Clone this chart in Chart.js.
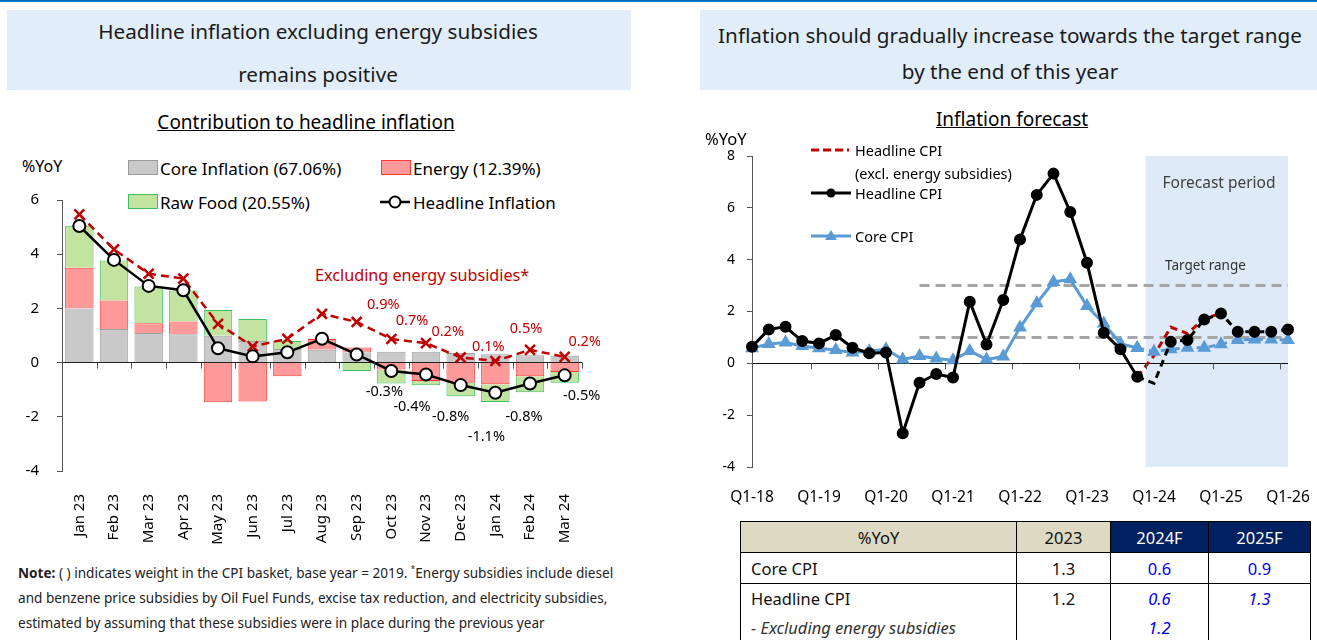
<!DOCTYPE html>
<html>
<head>
<meta charset="utf-8">
<script src="https://cdn.jsdelivr.net/npm/chart.js@4.4.1/dist/chart.umd.min.js"></script>
<style>
body{margin:0;width:1317px;height:640px;overflow:hidden;background:#fff;font-family:'Noto Sans',sans-serif;color:#111;position:relative}
.abs{position:absolute;white-space:nowrap}
.mid{transform:translateY(-50%)}
.ctr{transform:translate(-50%,-50%)}
.tbox{background:#e1eefa}
.ttl{font-size:20.7px;color:#1a1a1a}
.sub{font-size:19px;text-decoration:underline;color:#000}
.sw{position:absolute;width:28px;height:13px;border:1px solid}
.lg1{font-size:17px;color:#000}
.lg2{font-size:14.5px;color:#000}
.note{font-size:13.6px;color:#222;left:18px}
table{border-collapse:collapse;font-size:16.5px}
td,th{border-left:1px solid #000;border-right:1px solid #000;text-align:center;font-weight:normal;padding:0}
th{border-top:1px solid #000;border-bottom:1px solid #000}
td.l{text-align:left;padding-left:10px}
.bl{color:#0000ee}
.it{font-style:italic}
</style>
</head>
<body>
<div class="abs" style="left:0;top:0;width:1317px;height:2px;background:#0070c0"></div>

<div class="abs tbox" style="left:7px;top:10px;width:624px;height:80px"></div>
<div class="abs tbox" style="left:700px;top:10px;width:617px;height:80px"></div>
<div class="abs ttl ctr" style="left:318px;top:31px">Headline inflation excluding energy subsidies</div>
<div class="abs ttl ctr" style="left:318px;top:74px">remains positive</div>
<div class="abs ttl ctr" style="left:1010px;top:35px">Inflation should gradually increase towards the target range</div>
<div class="abs ttl ctr" style="left:1010px;top:71px">by the end of this year</div>

<div class="abs sub ctr" style="left:306px;top:122px">Contribution to headline inflation</div>
<div class="abs sub ctr" style="left:1012px;top:119px">Inflation forecast</div>

<!-- left legend -->
<div class="abs lg1 mid" style="left:22px;top:166px;font-size:16px">%YoY</div>
<div class="sw" style="left:128px;top:160px;background:#c9c9c9;border-color:#9a9a9a"></div>
<div class="abs lg1 mid" style="left:160px;top:168px">Core Inflation (67.06%)</div>
<div class="sw" style="left:381px;top:160px;background:#ff9a9a;border-color:#ff3a3a"></div>
<div class="abs lg1 mid" style="left:413px;top:168px">Energy (12.39%)</div>
<div class="sw" style="left:128px;top:194px;background:#c3e3a0;border-color:#3cbf5c"></div>
<div class="abs lg1 mid" style="left:160px;top:202px">Raw Food (20.55%)</div>
<svg class="abs" style="left:378px;top:192px" width="34" height="20"><line x1="2" y1="10" x2="32" y2="10" stroke="#000" stroke-width="2.5"/><circle cx="17" cy="10" r="5.5" fill="#fff" stroke="#000" stroke-width="2"/></svg>
<div class="abs lg1 mid" style="left:413px;top:202px">Headline Inflation</div>
<div class="abs mid" style="left:315px;top:275px;font-size:16.2px;color:#c00000">Excluding energy subsidies*</div>

<div class="abs" style="left:0;top:185px;width:600px;height:365px"><canvas id="c1" width="600" height="365"></canvas></div>

<div class="abs note mid" style="top:572px"><b>Note:</b> ( ) indicates weight in the CPI basket, base year = 2019. <sup style="font-size:8px">*</sup>Energy subsidies include diesel</div>
<div class="abs note mid" style="top:597px">and benzene price subsidies by Oil Fuel Funds, excise tax reduction, and electricity subsidies,</div>
<div class="abs note mid" style="top:622px">estimated by assuming that these subsidies were in place during the previous year</div>

<!-- right chart -->
<div class="abs" style="left:700px;top:140px;width:610px;height:375px"><canvas id="c2" width="610" height="375"></canvas></div>
<div class="abs mid" style="left:705px;top:138px;font-size:16.5px;color:#000">%YoY</div>
<svg class="abs" style="left:809px;top:140px" width="44" height="106">
  <line x1="2" y1="10" x2="40" y2="10" stroke="#c00000" stroke-width="3" stroke-dasharray="8,4"/>
  <line x1="2" y1="53" x2="42" y2="53" stroke="#000" stroke-width="3"/><circle cx="22" cy="53" r="4.5" fill="#000"/>
  <line x1="2" y1="96" x2="42" y2="96" stroke="#5b9bd5" stroke-width="3"/><polygon points="22,90 28,100 16,100" fill="#5b9bd5"/>
</svg>
<div class="abs lg2 mid" style="left:855px;top:150px">Headline CPI</div>
<div class="abs lg2 mid" style="left:855px;top:173px">(excl. energy subsidies)</div>
<div class="abs lg2 mid" style="left:855px;top:193px">Headline CPI</div>
<div class="abs lg2 mid" style="left:855px;top:236px">Core CPI</div>
<div class="abs ctr" style="left:1219px;top:182px;font-size:15.5px;color:#404040">Forecast period</div>
<div class="abs mid" style="left:1165px;top:265px;font-size:13.5px;color:#333">Target range</div>

<table class="abs" style="left:740px;top:521px">
<tr style="height:31px"><th style="width:275px;background:#ddd9c3">%YoY</th><th style="width:93px;background:#ddd9c3">2023</th><th style="width:97px;background:#002060;color:#fff">2024F</th><th style="width:101px;background:#002060;color:#fff">2025F</th></tr>
<tr style="height:31px;border-bottom:1px solid #000"><td class="l">Core CPI</td><td>1.3</td><td class="bl">0.6</td><td class="bl">0.9</td></tr>
<tr style="height:30px"><td class="l">Headline CPI</td><td>1.2</td><td class="bl it">0.6</td><td class="bl it">1.3</td></tr>
<tr style="height:28px"><td class="l it" style="color:#333">- Excluding energy subsidies</td><td></td><td class="bl it">1.2</td><td></td></tr>
</table>

<script>
Chart.defaults.font.family = "'Noto Sans', sans-serif"
Chart.defaults.color = '#000'

// ---- left chart data (contribution, %YoY) ----
let months = ['Jan 23','Feb 23','Mar 23','Apr 23','May 23','Jun 23','Jul 23','Aug 23','Sep 23','Oct 23','Nov 23','Dec 23','Jan 24','Feb 24','Mar 24']
let core = [2.0, 1.24, 1.09, 1.05, 0.99, 0.80, 0.50, 0.47, 0.37, 0.40, 0.40, 0.35, 0.31, 0.27, 0.25]
let energy = [1.5, 1.05, 0.36, 0.47, -1.46, -1.44, -0.50, 0.40, 0.19, -0.25, -0.68, -0.74, -0.80, -0.50, -0.35]
let rawFood = [1.55, 1.48, 1.36, 1.14, 0.95, 0.81, 0.30, 0.02, -0.31, -0.52, -0.16, -0.50, -0.65, -0.59, -0.39]
let headline = [5.04, 3.79, 2.83, 2.67, 0.53, 0.23, 0.38, 0.88, 0.30, -0.31, -0.44, -0.83, -1.11, -0.77, -0.47]
let exclSubsidy = [5.47, 4.18, 3.28, 3.10, 1.43, 0.60, 0.88, 1.80, 1.50, 0.87, 0.72, 0.19, 0.06, 0.47, 0.21]
let labelFrom = 9

// label nudges (px) for the value labels, Oct 23 .. Mar 24
let redNudge = [[-8,-34],[-14,-22],[-13,-26],[-7,-14],[-4,-21],[20,-15]]
let blackNudge = [[-7,21],[-14,32],[-10,32],[-9,44],[-6,33],[17,21]]

// ---- right chart data (quarterly %YoY) ----
let quarters = ['Q1-18','Q2-18','Q3-18','Q4-18','Q1-19','Q2-19','Q3-19','Q4-19','Q1-20','Q2-20','Q3-20','Q4-20',
  'Q1-21','Q2-21','Q3-21','Q4-21','Q1-22','Q2-22','Q3-22','Q4-22','Q1-23','Q2-23','Q3-23','Q4-23',
  'Q1-24','Q2-24','Q3-24','Q4-24','Q1-25','Q2-25','Q3-25','Q4-25','Q1-26']
let headlineCPI = [0.64, 1.31, 1.41, 0.86, 0.77, 1.09, 0.60, 0.39, 0.42, -2.70, -0.75, -0.41,
  -0.55, 2.38, 0.73, 2.44, 4.78, 6.50, 7.32, 5.84, 3.88, 1.18, 0.54, -0.52]
let coreCPI = [0.58, 0.75, 0.80, 0.67, 0.58, 0.51, 0.42, 0.47, 0.54, 0.15, 0.28, 0.19,
  0.12, 0.48, 0.15, 0.26, 1.38, 2.32, 3.14, 3.24, 2.21, 1.54, 0.76, 0.59]
let fcStart = 23   // forecast lines start from Q4-23
let headlineFc = [-0.52, -0.77, 0.83, 0.90, 1.69, 1.92, 1.22, 1.22, 1.22, 1.31]
let exclSubsidyFc = [-0.52, 0.30, 1.40, 1.15, 1.73, 1.92]
let coreFc = [0.59, 0.45, 0.54, 0.60, 0.60, 0.74, 0.90, 0.92, 0.92, 0.90]
let targetLow = 1
let targetHigh = 3
let targetFrom = 10

function pad(start, arr){
  let out = []
  for(let i=0;i<quarters.length;i++){
    out.push(i>=start && i-start<arr.length ? arr[i-start] : null)
  }
  return out
}
function flat(v){
  return quarters.map((q,i)=> i>=targetFrom ? v : null)
}
// stop the axes from pushing the plot area around
function noPad(s){
  s.paddingTop = 0; s.paddingBottom = 0; s.paddingLeft = 0; s.paddingRight = 0
}

//left chart
const leftExtras = {
  id:'leftExtras',
  afterDatasetsDraw(chart){
    const ctx = chart.ctx
    const x = chart.scales.x, y = chart.scales.y
    const y0 = y.getPixelForValue(0)
    ctx.save()
    ctx.strokeStyle = '#555'
    ctx.lineWidth = 1
    for(let i=0;i<=months.length;i++){
      let px = Math.round(x.getPixelForValue(i-0.5))+0.5
      ctx.beginPath(); ctx.moveTo(px,y0); ctx.lineTo(px,y0+6); ctx.stroke()
    }
    ctx.font = '14.5px "Noto Sans"'
    ctx.textAlign = 'center'
    ctx.textBaseline = 'middle'
    const redPts = chart.getDatasetMeta(1).data
    const blackPts = chart.getDatasetMeta(0).data
    for(let i=labelFrom;i<months.length;i++){
      let k = i-labelFrom
      ctx.fillStyle = '#c00000'
      ctx.fillText(exclSubsidy[i].toFixed(1)+'%', redPts[i].x+redNudge[k][0], redPts[i].y+redNudge[k][1])
      ctx.fillStyle = '#000'
      ctx.fillText(headline[i].toFixed(1)+'%', blackPts[i].x+blackNudge[k][0], blackPts[i].y+blackNudge[k][1])
    }
    ctx.restore()
  }
}

let chart1 = new Chart(document.getElementById('c1'), {
  type:'bar',
  data:{
    labels: months,
    datasets:[
      {type:'line', label:'Headline Inflation', data:headline, stack:'h', order:0,
        borderColor:'#000', borderWidth:2.5, pointRadius:6, pointBackgroundColor:'#fff',
        pointBorderColor:'#000', pointBorderWidth:2},
      {type:'line', label:'Excluding energy subsidies', data:exclSubsidy, stack:'e', order:1,
        borderColor:'#c00000', borderWidth:2.5, borderDash:[8,5], pointStyle:'crossRot',
        pointRadius:7, pointBorderColor:'#c00000', pointBorderWidth:2.5},
      {label:'Core Inflation', data:core, stack:'s', order:2, backgroundColor:'#c9c9c9', borderColor:'#a0a0a0', borderWidth:1},
      {label:'Energy', data:energy, stack:'s', order:3, backgroundColor:'#ff9a9a', borderColor:'#ff3a3a', borderWidth:1},
      {label:'Raw Food', data:rawFood, stack:'s', order:4, backgroundColor:'#c3e3a0', borderColor:'#3cbf5c', borderWidth:1}
    ]
  },
  options:{
    responsive:false, animation:false,
    layout:{padding:{top:15,right:18,left:0,bottom:0}},
    datasets:{bar:{barPercentage:0.82, categoryPercentage:1}},
    plugins:{legend:{display:false}, tooltip:{enabled:false}},
    scales:{
      x:{stacked:true, grid:{display:false}, border:{display:false},
        ticks:{autoSkip:false, minRotation:90, maxRotation:90, padding:15, font:{size:15}},
        afterFit(s){ s.height = 79; noPad(s) }},
      y:{stacked:true, min:-4, max:6,
        ticks:{stepSize:2, padding:18, font:{size:15}},
        grid:{color:c=> c.tick.value===0 ? '#222' : 'rgba(0,0,0,0)', tickColor:'#555', tickLength:5},
        border:{color:'#555'},
        afterFit(s){ s.width = 62; noPad(s) }}
    }
  },
  plugins:[leftExtras]
})

//right chart
const rightExtras = {
  id:'rightExtras',
  beforeDraw(chart){
    const ctx = chart.ctx, a = chart.chartArea
    const x0 = chart.scales.x.getPixelForValue(fcStart+0.5)
    ctx.save()
    ctx.fillStyle = '#deeaf8'
    ctx.fillRect(x0, a.top, a.right-x0, a.bottom-a.top)
    ctx.restore()
  },
  afterDraw(chart){
    const ctx = chart.ctx
    const x = chart.scales.x, y = chart.scales.y
    const y0 = y.getPixelForValue(0)
    ctx.save()
    ctx.strokeStyle = '#555'
    ctx.lineWidth = 1
    for(let i=4;i<quarters.length;i+=4){
      let px = Math.round(x.getPixelForValue(i-0.5))+0.5
      ctx.beginPath(); ctx.moveTo(px,y0); ctx.lineTo(px,y0+6); ctx.stroke()
    }
    ctx.restore()
  }
}

let fcRadius = headlineFc.map((v,i)=> i<2 ? 0 : 4.5)

let chart2 = new Chart(document.getElementById('c2'), {
  type:'line',
  data:{
    labels: quarters,
    datasets:[
      {label:'Headline CPI', data:headlineCPI.concat(Array(quarters.length-headlineCPI.length).fill(null)), order:0,
        borderColor:'#000', borderWidth:3, pointRadius:4.5, pointBackgroundColor:'#000', pointBorderColor:'#000'},
      {label:'Headline CPI forecast', data:pad(fcStart, headlineFc), order:1,
        borderColor:'#000', borderWidth:3, borderDash:[7,5], pointRadius:pad(fcStart, fcRadius),
        pointBackgroundColor:'#000', pointBorderColor:'#000'},
      {label:'Core CPI', data:coreCPI.concat(Array(quarters.length-coreCPI.length).fill(null)), order:2,
        borderColor:'#5b9bd5', borderWidth:3, pointStyle:'triangle', pointRadius:5,
        pointBackgroundColor:'#5b9bd5', pointBorderColor:'#5b9bd5'},
      {label:'Core CPI forecast', data:pad(fcStart, coreFc), order:3,
        borderColor:'#5b9bd5', borderWidth:3, borderDash:[7,5], pointStyle:'triangle', pointRadius:5,
        pointBackgroundColor:'#5b9bd5', pointBorderColor:'#5b9bd5'},
      {label:'Headline CPI (excl. energy subsidies)', data:pad(fcStart, exclSubsidyFc), order:4,
        borderColor:'#c00000', borderWidth:3, borderDash:[7,5], pointRadius:0},
      {label:'Target high', data:flat(targetHigh), order:5,
        borderColor:'#a6a6a6', borderWidth:3, borderDash:[10,6], pointRadius:0},
      {label:'Target low', data:flat(targetLow), order:6,
        borderColor:'#a6a6a6', borderWidth:3, borderDash:[10,6], pointRadius:0}
    ]
  },
  options:{
    responsive:false, animation:false,
    layout:{padding:{top:16,right:22,left:0,bottom:0}},
    plugins:{legend:{display:false}, tooltip:{enabled:false}},
    scales:{
      x:{grid:{display:false}, border:{display:false},
        ticks:{autoSkip:false, maxRotation:0, minRotation:0, padding:13, font:{size:15.5},
          callback:(v,i)=> i%4===0 ? quarters[i] : ''},
        afterFit(s){ s.height = 48; noPad(s) }},
      y:{min:-4, max:8,
        ticks:{stepSize:2, padding:12, font:{size:14}},
        grid:{color:c=> c.tick.value===0 ? '#111' : 'rgba(0,0,0,0)', tickColor:'#555', tickLength:5},
        border:{color:'#555'},
        afterFit(s){ s.width = 52; noPad(s) }}
    }
  },
  plugins:[rightExtras]
})
</script>
</body>
</html>
